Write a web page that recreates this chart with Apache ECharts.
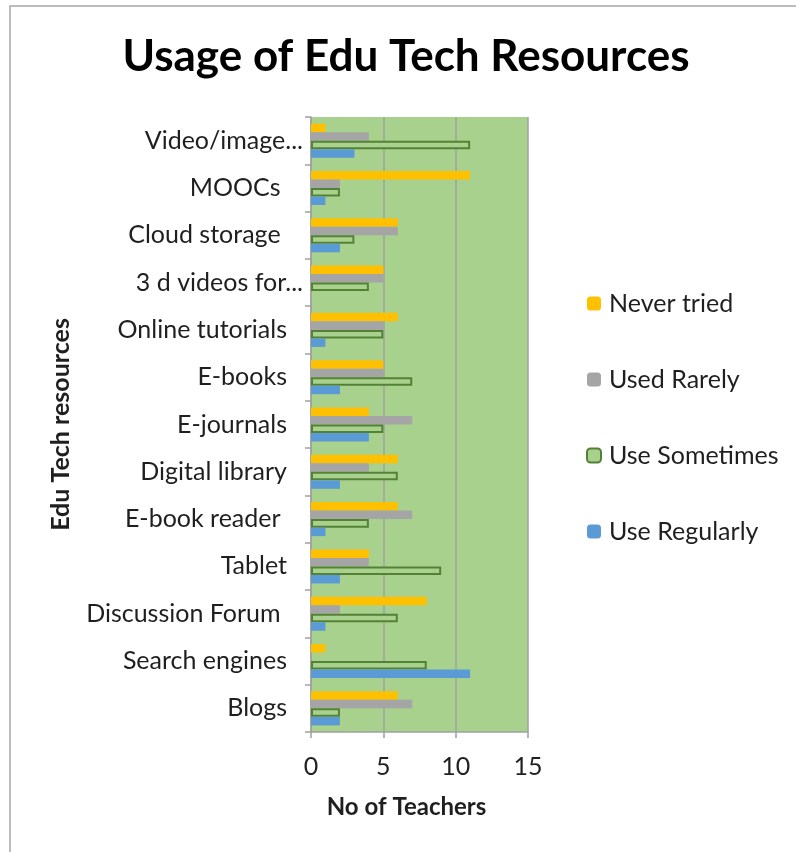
<!DOCTYPE html>
<html>
<head>
<meta charset="utf-8">
<title>Usage of Edu Tech Resources</title>
<script src="https://cdn.jsdelivr.net/npm/echarts@6/dist/echarts.min.js"></script>
<style>
  html, body { margin: 0; padding: 0; background: #ffffff; }
  #chart { width: 796px; height: 852px; }
</style>
</head>
<body>
<div id="chart"></div>
<script>
// Resources, listed from the bottom of the axis to the top
const categories = [
  'Blogs', 'Search engines', 'Discussion Forum ', 'Tablet', 'E-book reader ',
  'Digital library', 'E-journals', 'E-books', 'Online tutorials',
  '3 d videos for...', 'Cloud storage ', 'MOOCs ', 'Video/image...'
];

// Number of teachers per usage level
const neverTried   = [6, 1, 8, 4, 6, 6, 4, 5, 6, 5, 6, 11, 1];
const usedRarely   = [7, 0, 2, 4, 7, 4, 7, 5, 5, 5, 6, 2, 4];
const useSometimes = [2, 8, 6, 9, 4, 6, 5, 7, 5, 4, 3, 2, 11];
const useRegularly = [2, 11, 1, 2, 1, 2, 4, 2, 1, 0, 2, 1, 3];

const xTicks = [0, 5, 10, 15];
const legendOrder = ['Never tried', 'Used Rarely', 'Use Sometimes', 'Use Regularly'];

const FONT = 'Lato';
const TEXT = '#1f1f1f';
const GRIDLINE = '#a0a0a0';

// Truncated names sit a little closer to the axis
const categoryData = categories.map(function (name) {
  return /\.\.\.$/.test(name)
    ? { value: name, textStyle: { padding: [0, -16, 0, 0] } }
    : name;
});

const chart = echarts.init(document.getElementById('chart'), null, { renderer: 'canvas' });

function barSeries(name, data, color, extra) {
  return Object.assign({
    name: name,
    type: 'bar',
    data: data,
    barGap: '0%',
    barCategoryGap: '28%',
    itemStyle: { color: color },
    emphasis: { disabled: true },
    animation: false
  }, extra || {});
}

chart.setOption({
  backgroundColor: '#ffffff',
  animation: false,
  graphic: [{
    type: 'rect',
    shape: { x: 10, y: 6, width: 820, height: 880 },
    style: { fill: 'none', stroke: '#a6a6a6', lineWidth: 1.5 },
    silent: true,
    z: -10
  }],
  title: {
    text: 'Usage of Edu Tech Resources',
    left: 401,
    top: 30,
    textAlign: 'center',
    textStyle: { fontFamily: FONT, fontWeight: 'bold', fontSize: 44, color: '#000000' }
  },
  legend: {
    data: legendOrder,
    orient: 'vertical',
    left: 581,
    top: 286,
    itemWidth: 14,
    itemHeight: 14,
    itemGap: 51,
    textStyle: { fontFamily: FONT, fontSize: 25, color: TEXT, padding: [0, 0, 0, 3] },
    selectedMode: false
  },
  grid: { left: 311, right: 268, top: 117, bottom: 120, containLabel: false,
          show: true, backgroundColor: '#a9d18e', borderWidth: 0 },
  xAxis: {
    type: 'value',
    min: xTicks[0],
    max: xTicks[xTicks.length - 1],
    interval: 5,
    name: 'No of Teachers',
    nameLocation: 'middle',
    nameGap: 63,
    nameTextStyle: { fontFamily: FONT, fontWeight: 'bold', fontSize: 24, color: TEXT, padding: [0, 26, 0, 0] },
    axisLine: { show: true, lineStyle: { color: GRIDLINE, width: 1.5 } },
    axisTick: { show: true, length: 6, lineStyle: { color: GRIDLINE, width: 1.5 } },
    axisLabel: { margin: 22, fontFamily: FONT, fontSize: 25, color: TEXT },
    splitLine: { show: true, lineStyle: { color: GRIDLINE, width: 1.5 } }
  },
  yAxis: {
    type: 'category',
    data: categoryData,
    name: 'Edu Tech resources',
    nameLocation: 'middle',
    nameGap: 238,
    nameRotate: 90,
    nameTextStyle: { fontFamily: FONT, fontWeight: 'bold', fontSize: 25, color: TEXT },
    axisLine: { show: true, lineStyle: { color: GRIDLINE, width: 1.5 } },
    axisTick: { show: true, length: 6, alignWithLabel: false, lineStyle: { color: GRIDLINE, width: 1.5 } },
    axisLabel: { margin: 24, fontFamily: FONT, fontSize: 25, color: TEXT },
    splitLine: { show: false }
  },
  // Within each resource group the bars run top to bottom in this order
  series: [
    barSeries('Never tried', neverTried, '#ffc000'),
    barSeries('Used Rarely', usedRarely, '#a5a5a5'),
    barSeries('Use Sometimes', useSometimes, '#a9d18e', {
      itemStyle: { color: '#a9d18e', borderColor: '#548235', borderWidth: 2 }
    }),
    barSeries('Use Regularly', useRegularly, '#5b9bd5')
  ]
});
</script>
</body>
</html>
